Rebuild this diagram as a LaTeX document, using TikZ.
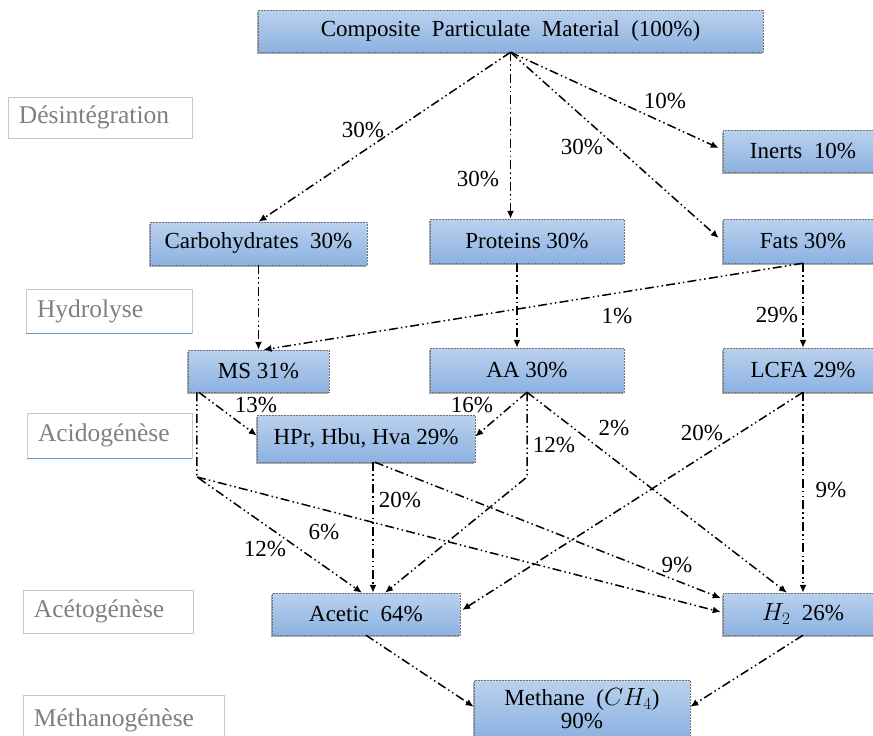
\documentclass[tikz,border=0pt]{standalone}
\usepackage{fontspec}
\setmainfont{Liberation Serif}
\usetikzlibrary{arrows.meta,calc,shadows}
\definecolor{boxtop}{RGB}{186,209,238}
\definecolor{boxbot}{RGB}{140,178,225}
\definecolor{stageblue}{RGB}{91,155,213}
\begin{document}
\begin{tikzpicture}[x=1pt,y=-1pt,
  box/.style={draw=black!55, densely dotted, line width=0.5pt, top color=boxtop, bottom color=boxbot,
    drop shadow={shadow xshift=-1.5pt, shadow yshift=-1.8pt, fill=black!60, opacity=0.55},
    font=\fontsize{23}{26}\selectfont, inner sep=2pt, align=center},
  stage/.style={draw=black!22, line width=0.8pt, fill=white, text=black!50,
    font=\fontsize{25.5}{28}\selectfont, inner xsep=11pt, inner ysep=0pt, align=left},
  flow/.style={draw, line width=1.5pt, dash pattern=on 9pt off 3.2pt on 1.5pt off 3.2pt on 1.5pt off 3.2pt,
    -{Latex[length=8pt,width=7pt]}},
  pct/.style={font=\fontsize{23}{25}\selectfont, inner sep=0pt}]
\useasboundingbox (0,0) rectangle (873,736);
\clip (0,0) rectangle (873,736);

% stage labels
\node[stage, minimum width=184, minimum height=41, text width=162] (sdis) at (100,117.5) {Désintégration};
\node[stage, minimum width=166, minimum height=44, text width=144] (shyd) at (109,311) {Hydrolyse};
\node[stage, minimum width=165, minimum height=45, text width=143] (sacid) at (109.5,435.5) {Acidogénèse};
\node[stage, minimum width=170, minimum height=43, text width=148] (saceto) at (108,611.5) {Acétogénèse};
\node[stage, minimum width=201, minimum height=50, text width=179] (smeth) at (123.5,720) {Méthanogénèse};
\draw[stageblue, line width=1pt] (shyd.south west) -- (shyd.south east);
\draw[stageblue, line width=1pt] (sacid.south west) -- (sacid.south east);

% process boxes
\node[box, minimum width=505, minimum height=42] (comp) at (510.5,31) {Composite~ Particulate~ Material~ (100\%)};
\node[box, minimum width=217, minimum height=43] (carb) at (258.5,243.5) {Carbohydrates~ 30\%};
\node[box, minimum width=194, minimum height=44] (prot) at (527,241) {Proteins 30\%};
\node[box, minimum width=160, minimum height=42] (inert) at (803,151) {Inerts~ 10\%};
\node[box, minimum width=160, minimum height=44] (fats) at (803,241) {Fats 30\%};
\node[box, minimum width=141, minimum height=42] (ms) at (258.5,371) {MS 31\%};
\node[box, minimum width=194, minimum height=44] (aa) at (527,370) {AA 30\%};
\node[box, minimum width=160, minimum height=44] (lcfa) at (803,370) {LCFA 29\%};
\node[box, minimum width=218, minimum height=47] (hpr) at (366,438.5) {HPr, Hbu, Hva 29\%};
\node[box, minimum width=188, minimum height=42] (acet) at (366,614) {Acetic~ 64\%};
\node[box, minimum width=160, minimum height=42] (htwo) at (803,614) {$H_2$~ 26\%};
\node[box, minimum width=216, minimum height=58] (meth) at (582,709) {Methane~ ($CH_4$)\\[-3pt]90\%};

% junctions
\coordinate (msj) at (197,477);
\coordinate (aaj) at (527,477);

% disintegration
\draw[flow] (comp.south) -- (carb.north);
\draw[flow] (comp.south) -- (comp.south |- prot.north);
\draw[flow] (comp.south) -- ($(fats.west)+(-4,-3)$);
\draw[flow] (comp.south) -- ($(inert.west)+(-4,-3)$);
\node[pct] (l1) at (363,130) {30\%};
\node[pct] (l2) at (478,179) {30\%};
\node[pct] (l3) at (582,147) {30\%};
\node[pct] (l4) at (665,101) {10\%};

% hydrolysis
\draw[flow] (carb.south) -- (ms.north);
\draw[flow] (fats.south) -- ($(ms.north)+(5,0)$);
\draw[flow] ($(prot.south)+(-10,0)$) -- ($(aa.north)+(-10,0)$);
\draw[flow] (fats.south) -- (lcfa.north);
\node[pct] (l5) at (617,316) {1\%};
\node[pct] (l6) at (777,315) {29\%};

% acidogenesis
\draw[flow] ($(ms.south west)+(11,0)$) -- ($(hpr.west)+(0,-3)$);
\draw[flow] ($(ms.south west)+(9,0)$) -- (msj) -- ($(acet.north)+(-4,0)$);
\draw[flow] (msj) -- ($(htwo.west)+(-2,-2)$);
\draw[flow] (aa.south) -- ($(hpr.east)+(0,-2)$);
\draw[flow] (aa.south) -- (aaj) -- ($(acet.north)+(19,0)$);
\draw[flow] (aa.south) -- ($(htwo.north)+(-16,0)$);
\draw[flow] (lcfa.south) -- ($(acet.east)+(2,-4)$);
\draw[flow] (lcfa.south) -- (htwo.north);
\node[pct] (l7) at (256,405) {13\%};
\node[pct] (l8) at (472,405) {16\%};
\node[pct] (l9) at (554,445) {12\%};
\node[pct] (l10) at (614,428) {2\%};
\node[pct] (l11) at (702,433) {20\%};
\node[pct] (l12) at (831,490) {9\%};
\node[pct] (l13) at (265,549) {12\%};
\node[pct] (l14) at (324,532) {6\%};

% acetogenesis
\draw[flow] ($(hpr.south)+(7,0)$) -- ($(acet.north)+(7,0)$);
\draw[flow] ($(hpr.south)+(9,0)$) -- ($(htwo.west)+(-2,-16)$);
\node[pct] (l15) at (400,500) {20\%};
\node[pct] (l16) at (677,565) {9\%};

% methanogenesis
\draw[flow] (acet.south) -- ($(meth.north west)+(0,27)$);
\draw[flow] (htwo.south) -- ($(meth.north east)+(0,27)$);
\end{tikzpicture}
\end{document}
